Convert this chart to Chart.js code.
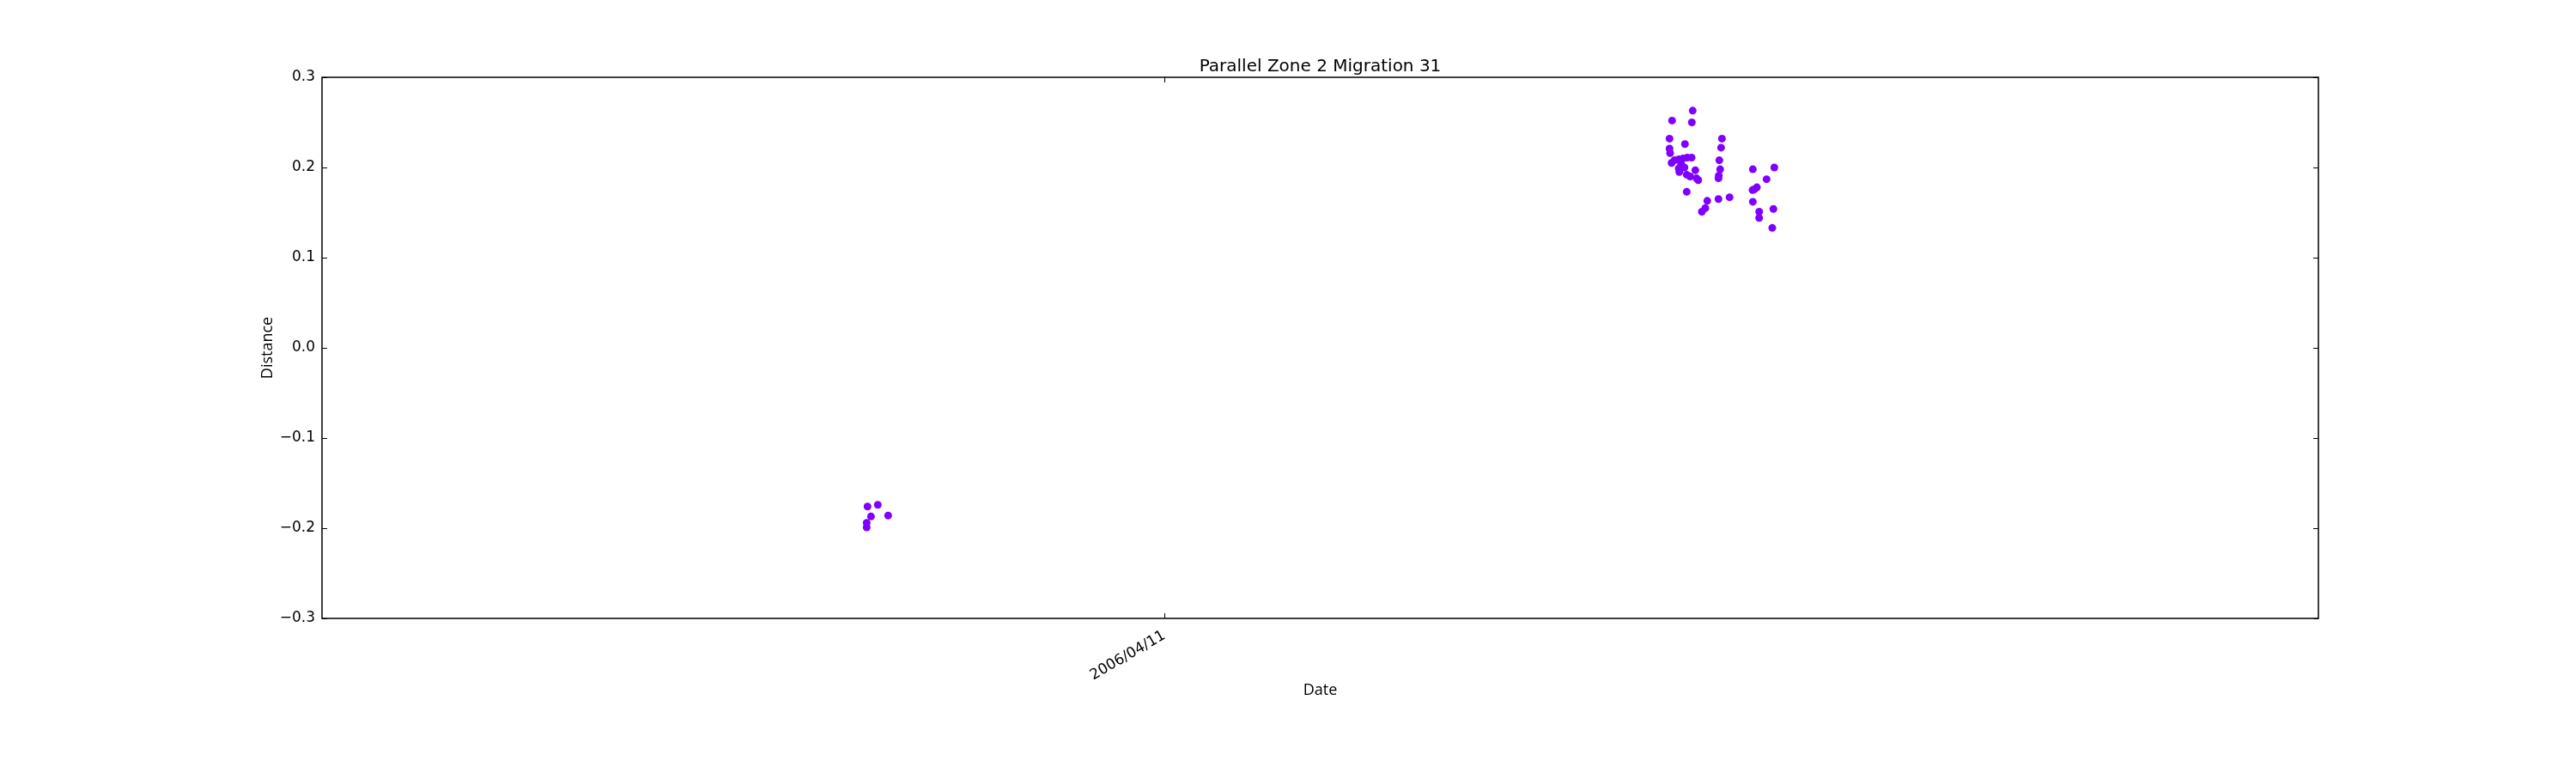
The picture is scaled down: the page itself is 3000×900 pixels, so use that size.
<!DOCTYPE html>
<html>
<head>
<meta charset="utf-8">
<script src="https://cdn.jsdelivr.net/npm/chart.js@4/dist/chart.umd.min.js"></script>
<style>
    body { margin: 0; background: #fff; }
</style>
</head>
<body>
<canvas id="myChart" width="3000" height="900"></canvas>
<script>
const chartTitle = 'Parallel Zone 2 Migration 31';
const xLabel = 'Date';
const yLabel = 'Distance';

// x = days relative to 2006/04/11, y = distance
const dayOffsets = [
    -35.24, -34.02, -34.83, -32.79, -35.34, -35.34,
    62.72, 60.27, 62.62, 59.97, 66.19, 61.80, 59.97, 66.09, 60.04, 60.21,
    60.55, 61.06, 61.57, 62.08, 62.59, 61.34, 61.06, 61.13, 61.74, 62.01,
    62.42, 63.03, 63.38, 63.17, 62.01, 65.88, 65.98, 65.82, 65.78, 64.45,
    64.22, 63.81, 65.78, 67.10, 69.86, 72.41, 71.49, 70.34, 70.06, 69.83,
    69.86, 70.61, 72.30, 70.61, 72.17
];
const distances = [
    -0.176, -0.174, -0.187, -0.186, -0.194, -0.199,
    0.263, 0.252, 0.250, 0.232, 0.232, 0.226, 0.221, 0.222, 0.216, 0.205,
    0.208, 0.209, 0.210, 0.211, 0.211, 0.204, 0.199, 0.195, 0.200, 0.192,
    0.190, 0.197, 0.186, 0.188, 0.173, 0.208, 0.198, 0.191, 0.188, 0.163,
    0.155, 0.151, 0.165, 0.167, 0.198, 0.200, 0.187, 0.178, 0.176, 0.175,
    0.162, 0.151, 0.154, 0.144, 0.133
];

const xTickDays = [0];
const xTickLabels = ['2006/04/11'];
const yTickValues = [-0.3, -0.2, -0.1, 0.0, 0.1, 0.2, 0.3];
const yTickLabels = ['\u22120.3', '\u22120.2', '\u22120.1', '0.0', '0.1', '0.2', '0.3'];

const points = dayOffsets.map((d, i) => ({ x: d, y: distances[i] }));

// matplotlib style frame with inward ticks
const framePlugin = {
    id: 'frame',
    afterDatasetsDraw(chart) {
        const { ctx, chartArea: a, scales } = chart;
        ctx.save();
        ctx.strokeStyle = '#000';
        ctx.lineWidth = 1;
        ctx.beginPath();
        scales.x.ticks.forEach(t => {
            const px = Math.round(scales.x.getPixelForValue(t.value)) + 0.5;
            ctx.moveTo(px, a.bottom); ctx.lineTo(px, a.bottom - 6);
            ctx.moveTo(px, a.top); ctx.lineTo(px, a.top + 6);
        });
        scales.y.ticks.forEach(t => {
            const py = Math.round(scales.y.getPixelForValue(t.value)) + 0.5;
            ctx.moveTo(a.left, py); ctx.lineTo(a.left + 6, py);
            ctx.moveTo(a.right, py); ctx.lineTo(a.right - 6, py);
        });
        ctx.stroke();
        ctx.lineWidth = 1.5;
        ctx.strokeRect(a.left, a.top, a.right - a.left, a.bottom - a.top);
        ctx.restore();
    }
};

const ctx = document.getElementById('myChart').getContext('2d');
Chart.defaults.font.family = 'DejaVu Sans';
Chart.defaults.color = '#000';

new Chart(ctx, {
    type: 'scatter',
    data: {
        datasets: [{
            label: 'Distance',
            data: points,
            backgroundColor: '#8000ff',
            borderWidth: 0,
            pointRadius: 4.5
        }]
    },
    options: {
        responsive: false,
        animation: false,
        layout: { padding: { left: 75, right: 0, top: 0, bottom: 0 } },
        plugins: {
            legend: { display: false },
            tooltip: { enabled: false },
            title: {
                display: true,
                text: chartTitle,
                color: '#000',
                font: { family: 'DejaVu Sans', size: 20, weight: 'normal', lineHeight: 1 },
                padding: { top: 68, bottom: 2 }
            }
        },
        scales: {
            x: {
                type: 'linear',
                min: -100,
                max: 137,
                afterBuildTicks: s => { s.ticks = xTickDays.map(v => ({ value: v })); },
                afterFit: s => { s.height = 180; },
                grid: { display: false, drawTicks: false },
                border: { display: false },
                ticks: {
                    autoSkip: false,
                    minRotation: 30,
                    maxRotation: 30,
                    padding: 10,
                    font: { size: 17 },
                    callback: (v, i) => xTickLabels[i]
                },
                title: {
                    display: true,
                    text: xLabel,
                    font: { family: 'Open Sans', size: 18 },
                    padding: { top: 0, bottom: 85 }
                }
            },
            y: {
                min: -0.3,
                max: 0.3,
                afterBuildTicks: s => { s.ticks = yTickValues.map(v => ({ value: v })); },
                afterFit: s => { s.width = 300; },
                grid: { display: false, drawTicks: false },
                border: { display: false },
                ticks: {
                    padding: 8,
                    font: { size: 17 },
                    callback: (v, i) => yTickLabels[i]
                },
                title: {
                    display: true,
                    text: yLabel,
                    font: { family: 'Open Sans', size: 18 },
                    padding: { top: 226, bottom: 0 }
                }
            },
            yRight: {
                position: 'right',
                afterFit: s => { s.width = 300; },
                grid: { display: false, drawTicks: false },
                border: { display: false },
                ticks: { display: false }
            }
        }
    },
    plugins: [framePlugin]
});
</script>
</body>
</html>
